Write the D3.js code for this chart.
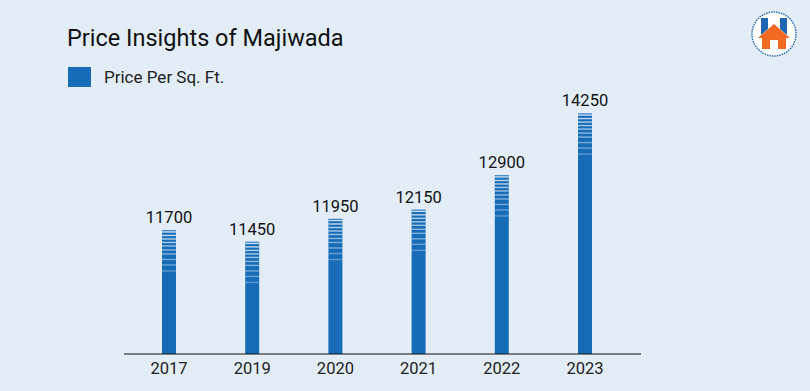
<!DOCTYPE html>
<html><head><meta charset="utf-8">
<script src="https://cdn.jsdelivr.net/npm/d3@7"></script>
<style>html,body{margin:0;padding:0;background:#e3edf7;}svg{display:block;font-family:Roboto,Arial,sans-serif;}</style>
</head><body>
<svg id="c" width="810" height="391"></svg>
<script>
const years = ["2017","2019","2020","2021","2022","2023"];
const prices = [11700,11450,11950,12150,12900,14250];
const seriesName = "Price Per Sq. Ft.";
const title = "Price Insights of Majiwada";

const svg = d3.select("#c");
const W = 810, H = 391;
svg.append("rect").attr("width",W).attr("height",H).attr("fill","#e3edf7");

const base = 354;
const x = d3.scaleBand().domain(years).range([127.4,626.6]).paddingInner(0.83).paddingOuter(0.415);
const y = d3.scaleLinear().domain([9000,15000]).range([base,79]);
const barColor = "#176cb7";

svg.append("text").attr("x",67).attr("y",46).attr("font-size",23.5).attr("fill","#111").text(title);
svg.append("rect").attr("x",68).attr("y",67).attr("width",23).attr("height",20).attr("fill",barColor);
svg.append("text").attr("x",104).attr("y",83).attr("font-size",17).attr("fill","#222").text(seriesName);

const stripeOffsets = [1,4.5,8,11.5,15,19,23,28.5,34,40];
const bw = 14;
const g = svg.append("g");
years.forEach((yr,i)=>{
  const cx = x(yr) + x.bandwidth()/2;
  const top = y(prices[i]);
  g.append("rect").attr("x",cx-bw/2).attr("y",top).attr("width",bw).attr("height",base-top).attr("fill",barColor);
  stripeOffsets.forEach((o,j)=>{
    g.append("rect").attr("x",cx-bw/2).attr("y",top+o).attr("width",bw).attr("height",1.4)
      .attr("fill","#d6e6f6").attr("opacity",0.95 - j*0.065);
  });
  g.append("text").attr("x",cx).attr("y",top-7).attr("text-anchor","middle").attr("font-size",16.5).attr("fill","#111").text(prices[i]);
});

svg.append("line").attr("x1",124).attr("x2",641).attr("y1",base).attr("y2",base).attr("stroke","#111").attr("stroke-width",1);
const ax = svg.append("g").attr("transform",`translate(0,${base})`).call(d3.axisBottom(x).tickSize(0).tickPadding(7));
ax.select(".domain").remove();
ax.selectAll("text").attr("font-size",16.5).attr("fill","#222").attr("font-family","Roboto,Arial,sans-serif").attr("dy","0.8em");

// logo
const lg = svg.append("g").attr("transform","translate(774,34)");
lg.append("circle").attr("r",22).attr("fill","#fff").attr("stroke","#2a6fb5").attr("stroke-width",1.5).attr("stroke-dasharray","1.5,1");
lg.append("path").attr("d","M-13,-16 L-6,-16 L-6,-5 L-13,1 Z").attr("fill","#1f66b3");
lg.append("path").attr("d","M6,-16 L13,-16 L13,1 L6,-5 Z").attr("fill","#1f66b3");
lg.append("path").attr("d","M0,-10 L16,4 L12,4 L12,15 L4,15 L4,6 L-4,6 L-4,15 L-12,15 L-12,4 L-16,4 Z").attr("fill","#f26a21");
</script>
</body></html>
